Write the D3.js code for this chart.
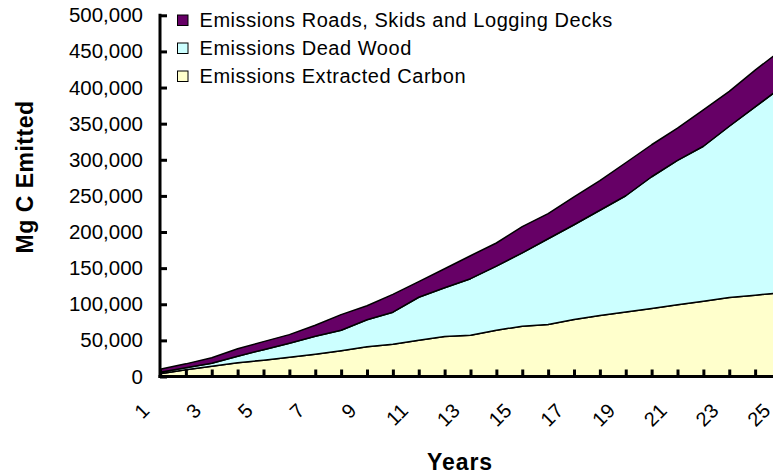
<!DOCTYPE html>
<html>
<head>
<meta charset="utf-8">
<script src="https://cdn.jsdelivr.net/npm/d3@7"></script>
<style>
  html, body { margin: 0; padding: 0; background: #fff; }
  svg { display: block; font-family: "Liberation Sans", Arial, sans-serif; }
</style>
</head>
<body>
<svg id="chart" width="773" height="474"></svg>
<script>
// Years after harvest
const years = d3.range(1, 26);

// Annual cumulative emissions by source (Mg C)
const extractedCarbon = [3900, 9400, 14300, 19100, 22600, 26700, 30900, 35700, 41200, 44700,
  50200, 55400, 57200, 64100, 69600, 72000, 78900, 84600, 89400, 94100,
  99200, 104300, 109300, 112600, 115800];
const deadWood = [2100, 2800, 4100, 9000, 14500, 19400, 24900, 28400, 37300, 44300,
  59500, 67400, 78200, 88600, 101600, 118700, 131200, 145500, 160800, 182400,
  200100, 214400, 237100, 260500, 284200];
const roadsSkidsDecks = [4000, 5300, 7600, 10400, 11200, 11900, 15200, 21600, 19500, 24600,
  21600, 26400, 31800, 32100, 36300, 34800, 38600, 40900, 45700, 44300,
  44600, 50400, 48400, 50900, 51800];

const seriesNames = ["Emissions Extracted Carbon", "Emissions Dead Wood", "Emissions Roads, Skids and Logging Decks"];
const seriesColors = ["#FFFFCC", "#CCFFFF", "#660066"];
const yTicks = [0, 50000, 100000, 150000, 200000, 250000, 300000, 350000, 400000, 450000, 500000];

const table = years.map((yr, i) => ({
  year: yr,
  s0: extractedCarbon[i],
  s1: deadWood[i],
  s2: roadsSkidsDecks[i]
}));

const svg = d3.select("#chart");
const x = d3.scalePoint().domain(years).range([160, 781]);
const y = d3.scaleLinear().domain([0, 500000]).range([376.5, 15.3]);

const stacked = d3.stack().keys(["s0", "s1", "s2"])(table);

const area = d3.area()
  .x(d => x(d.data.year))
  .y0(d => y(d[0]))
  .y1(d => y(d[1]));

svg.append("g").selectAll("path")
  .data(stacked)
  .join("path")
  .attr("d", area)
  .attr("fill", (d, i) => seriesColors[i])
  .attr("stroke", "#000")
  .attr("stroke-width", 1.5)
  .attr("stroke-linejoin", "round");

// Y axis
const yAxis = svg.append("g")
  .attr("transform", "translate(160,0)")
  .call(d3.axisLeft(y).tickValues(yTicks).tickFormat(d3.format(",")).tickSizeInner(-7).tickSizeOuter(0).tickPadding(17));
yAxis.select(".domain").attr("stroke", "#000").attr("stroke-width", 3)
  .attr("d", `M0,${y(500000) - 1.5}V${y(0) + 1.5}`);
yAxis.selectAll(".tick line").attr("stroke", "#000").attr("stroke-width", 3);
yAxis.selectAll(".tick text").attr("font-size", "20.5px").attr("fill", "#000")
  .attr("font-family", "'Liberation Sans', Arial, sans-serif");

// X axis
const xAxis = svg.append("g")
  .attr("transform", `translate(0,${y(0)})`)
  .call(d3.axisBottom(x).tickSizeInner(-7).tickSizeOuter(0).tickFormat(d => d % 2 === 1 ? d : ""));
xAxis.select(".domain").attr("stroke", "#000").attr("stroke-width", 3)
  .attr("d", "M158.5,0H781");
xAxis.selectAll(".tick line").attr("stroke", "#000").attr("stroke-width", 3);
xAxis.selectAll(".tick text")
  .attr("font-size", "20px").attr("fill", "#000")
  .attr("font-family", "'Liberation Sans', Arial, sans-serif")
  .attr("text-anchor", "end")
  .attr("x", null).attr("y", null).attr("dy", null)
  .attr("transform", `translate(-10,${412 - 376.5}) rotate(-45)`);

// Axis titles
svg.append("text")
  .attr("transform", "translate(32.5,177) rotate(-90)")
  .attr("text-anchor", "middle")
  .attr("font-size", "23px").attr("font-weight", "bold")
  .attr("letter-spacing", "0.5px")
  .text("Mg C Emitted");

svg.append("text")
  .attr("x", 460).attr("y", 470)
  .attr("text-anchor", "middle")
  .attr("font-size", "23px").attr("font-weight", "bold")
  .attr("letter-spacing", "0.9px")
  .text("Years");

// Legend (top series first)
const legendOrder = [2, 1, 0];
const legend = svg.append("g").selectAll("g")
  .data(legendOrder)
  .join("g")
  .attr("transform", (d, i) => `translate(177.5,${15 + i * 28})`);
legend.append("rect")
  .attr("width", 10.5).attr("height", 10.5)
  .attr("fill", d => seriesColors[d])
  .attr("stroke", "#000").attr("stroke-width", 1);
legend.append("text")
  .attr("x", 22).attr("y", 11.8)
  .attr("font-size", "20px")
  .attr("letter-spacing", "0.55px")
  .text(d => seriesNames[d]);
</script>
</body>
</html>
